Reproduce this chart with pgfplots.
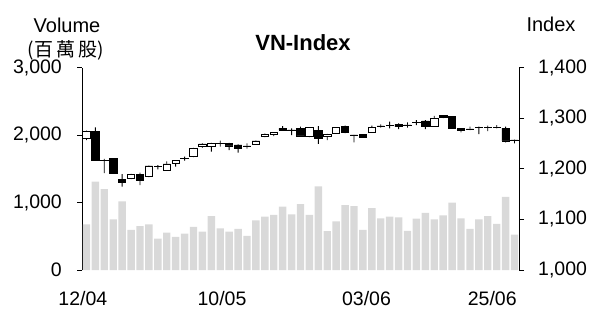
\documentclass[border=0pt]{standalone}
\usepackage{pgfplots}
\pgfplotsset{compat=1.18}
\usepackage{pgfplotstable}
\usepackage{fontspec}
\setmainfont{Liberation Sans}
\newfontfamily\cjk{Noto Sans CJK TC}
\definecolor{volgray}{HTML}{D9D9D9}

\pgfplotstableread{
x vol
0 675
1 1310
2 1200
3 750
4 1015
5 595
6 650
7 675
8 465
9 555
10 490
11 540
12 640
13 570
14 800
15 615
16 570
17 610
18 505
19 735
20 790
21 815
22 940
23 825
24 975
25 815
26 1240
27 575
28 720
29 960
30 945
31 595
32 915
33 765
34 790
35 780
36 580
37 760
38 845
39 750
40 810
41 1000
42 765
43 610
44 750
45 800
46 685
47 1085
48 525
}\voltab

\pgfplotstableread{
x o h l c
0 1260.7 1275.5 1256.8 1274.5
1 1273.2 1281.8 1215.9 1215.9
2 1217.0 1219.3 1191.6 1217.0
3 1220.6 1221.0 1190.5 1191.0
4 1179.0 1189.6 1164.5 1172.8
5 1181.0 1190.0 1179.7 1189.0
6 1189.0 1192.2 1167.9 1176.4
7 1184.3 1206.0 1183.5 1205.4
8 1204.0 1207.4 1199.0 1204.0
9 1197.5 1214.7 1197.0 1209.4
10 1210.7 1216.5 1204.0 1215.9
11 1220.0 1223.8 1216.0 1220.0
12 1223.8 1241.0 1223.0 1240.4
13 1244.9 1250.0 1241.5 1248.9
14 1243.5 1251.0 1233.6 1250.2
15 1250.0 1255.4 1243.5 1250.0
16 1250.2 1251.0 1237.0 1244.9
17 1246.9 1248.3 1231.7 1240.4
18 1244.9 1250.0 1240.0 1244.9
19 1248.3 1255.5 1247.5 1254.8
20 1263.3 1269.5 1262.5 1268.6
21 1268.0 1272.5 1264.7 1272.0
22 1279.9 1284.4 1276.0 1276.5
23 1276.5 1280.0 1266.6 1276.5
24 1280.0 1283.0 1264.0 1264.7
25 1263.3 1282.0 1262.5 1281.0
26 1275.1 1284.4 1248.9 1260.1
27 1263.3 1269.0 1256.8 1268.6
28 1270.0 1281.5 1269.5 1281.0
29 1284.4 1285.0 1270.5 1271.2
30 1266.6 1267.0 1252.2 1266.6
31 1268.0 1268.5 1261.5 1262.0
32 1272.0 1285.0 1271.5 1281.0
33 1284.4 1287.8 1281.0 1284.4
34 1285.0 1293.0 1280.0 1285.0
35 1287.8 1289.7 1278.5 1283.0
36 1286.4 1291.7 1281.0 1286.4
37 1291.7 1296.0 1286.0 1291.7
38 1294.3 1296.0 1278.5 1284.4
39 1283.0 1304.7 1282.5 1299.6
40 1304.7 1305.0 1300.0 1301.6
41 1302.8 1303.5 1279.5 1279.9
42 1280.0 1280.5 1272.0 1275.1
43 1278.5 1283.0 1276.5 1278.5
44 1281.0 1283.0 1268.6 1281.0
45 1281.0 1285.0 1274.5 1281.0
46 1282.0 1286.4 1280.0 1282.0
47 1280.0 1283.0 1252.2 1254.8
48 1256.8 1257.5 1250.2 1256.8
}\idxtab

\begin{document}
\begin{tikzpicture}[x=1pt,y=1pt]
\path[use as bounding box] (0,0) rectangle (593,309);
\pgfplotsset{
  basic/.style={scale only axis, width=437pt, height=202.5pt,
    at={(82pt,39pt)}, anchor=south west, xmin=-0.5, xmax=48.5},
  lab/.style={font=\fontsize{19.5}{22}\selectfont, inner sep=0pt},
}
% volume
\begin{axis}[basic, ymin=0, ymax=3000,
  axis y line*=left, axis x line*=bottom,
  x axis line style={draw=none},
  y axis line style={black, line width=0.8pt},
  xtick={-0.4,15.2,31.4,45.5}, xticklabels={12/04,10/05,03/06,25/06},
  xtick style={draw=none},
  ytick={0,1000,2000,3000}, yticklabels={0,{1,000},{2,000},{3,000}},
  ytick style={black, line width=0.8pt},
  tick align=outside, major tick length=5pt,
  ticklabel style={lab},
  yticklabel shift=15pt, xticklabel shift=16pt,
  ybar, bar width=7.4pt]
\addplot[fill=volgray, draw=none] table[x=x, y=vol]{\voltab};
\end{axis}
% wicks
\begin{axis}[basic, ymin=1000, ymax=1400, hide axis, ybar stacked, bar width=0.9pt]
\addplot[draw=none, fill=none] table[x=x, y=l]{\idxtab};
\addplot[fill=black, draw=none] table[x=x, y expr=\thisrow{h}-\thisrow{l}]{\idxtab};
\end{axis}
% bodies
\begin{axis}[basic, ymin=1000, ymax=1400,
  axis y line*=right, axis x line=none,
  y axis line style={black, line width=0.8pt},
  ytick={1000,1100,1200,1300,1400},
  yticklabels={{1,000},{1,100},{1,200},{1,300},{1,400}},
  ytick style={black, line width=0.8pt},
  tick align=outside, major tick length=5pt,
  ticklabel style={lab}, yticklabel shift=14pt,
  ybar stacked, bar width=7.4pt]
\addplot[draw=none, fill=none] table[x=x, y expr={min(\thisrow{o},\thisrow{c})}]{\idxtab};
\addplot[fill=white, draw=black, line width=0.8pt] table[x=x, y expr={max(\thisrow{c}-\thisrow{o},0.05)}]{\idxtab};
\addplot[fill=black, draw=black, line width=0.8pt] table[x=x, y expr={max(\thisrow{o}-\thisrow{c},0.05)}]{\idxtab};
\end{axis}
\node[font=\fontsize{20}{24}\selectfont] at (67,284) {Volume};
\node[font=\fontsize{19}{22}\selectfont\cjk] at (66,259) {(百\,萬\,股)};
\node[font=\fontsize{20}{24}\selectfont] at (551,285) {Index};
\node[font=\fontsize{22}{26}\selectfont\bfseries] at (303,266) {VN-Index};
\end{tikzpicture}
\end{document}
